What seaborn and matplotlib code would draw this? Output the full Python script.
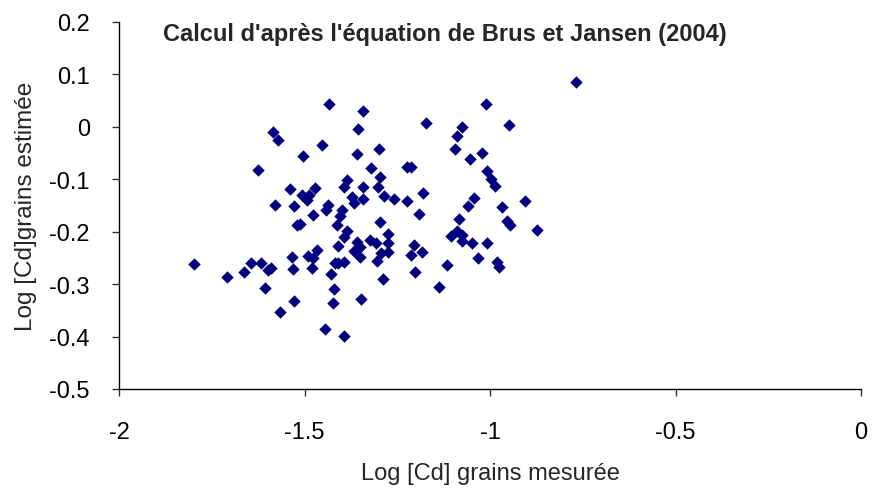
import matplotlib
matplotlib.use('Agg')
import matplotlib.pyplot as plt
import seaborn as sns
import pandas as pd

# valeurs (log Cd grains mesurée / estimée)
log_cd_mesuree = [
    -1.433, -1.586, -1.572, -1.454, -1.503, -1.625, -1.538, -1.508, -1.472, -1.487,
    -1.494, -1.580, -1.529, -1.437, -1.443, -1.476, -1.521, -1.512, -1.413, -1.411,
    -1.797, -1.708, -1.663, -1.644, -1.617, -1.598, -1.591, -1.533, -1.532, -1.490,
    -1.467, -1.476, -1.481, -1.418, -1.411, -1.429, -1.607, -1.420, -1.528, -1.424,
    -1.566, -1.445,
    -1.343, -1.357, -1.358, -1.299, -1.172, -1.012, -1.075, -1.088, -0.950, -1.094,
    -1.054, -1.022, -1.322, -1.225, -1.214, -1.386, -1.394, -1.342, -1.296, -1.303,
    -1.009, -0.998, -0.988, -1.373, -1.368, -1.343, -1.285, -1.258, -1.223, -1.182,
    -1.191, -1.042, -1.060, -0.967, -0.906, -1.400, -1.404, -1.296, -1.084, -0.955,
    -0.946, -0.874, -1.386, -1.395, -1.323, -1.276, -1.307, -1.274, -1.359, -1.350,
    -1.368, -1.294, -1.274, -1.305, -1.350, -1.393, -1.205, -1.184, -1.213, -1.105,
    -1.090, -1.076, -1.075, -1.048, -1.009, -1.032, -0.982, -0.975, -1.115, -1.203,
    -1.289, -1.137, -1.349, -1.395, -0.768,
]
log_cd_estimee = [
    0.044, -0.009, -0.026, -0.034, -0.055, -0.082, -0.118, -0.130, -0.116, -0.130,
    -0.139, -0.149, -0.151, -0.149, -0.158, -0.168, -0.188, -0.185, -0.187, -0.228,
    -0.261, -0.287, -0.277, -0.260, -0.259, -0.274, -0.269, -0.249, -0.272, -0.247,
    -0.234, -0.251, -0.269, -0.259, -0.259, -0.281, -0.307, -0.310, -0.333, -0.336,
    -0.354, -0.385,
    0.030, -0.005, -0.051, -0.042, 0.008, 0.043, -0.001, -0.018, 0.003, -0.042,
    -0.061, -0.049, -0.079, -0.077, -0.077, -0.101, -0.115, -0.115, -0.095, -0.115,
    -0.084, -0.099, -0.113, -0.133, -0.145, -0.138, -0.132, -0.137, -0.142, -0.126,
    -0.166, -0.135, -0.151, -0.153, -0.142, -0.159, -0.171, -0.182, -0.176, -0.180,
    -0.187, -0.196, -0.199, -0.210, -0.215, -0.204, -0.222, -0.221, -0.220, -0.229,
    -0.236, -0.241, -0.239, -0.255, -0.248, -0.257, -0.225, -0.238, -0.245, -0.209,
    -0.199, -0.207, -0.218, -0.221, -0.221, -0.250, -0.258, -0.267, -0.264, -0.277,
    -0.291, -0.305, -0.329, -0.399, 0.086,
]

x_ticks = [-2, -1.5, -1, -0.5, 0]
x_labels = ['-2', '-1.5', '-1', '-0.5', '0']
y_ticks = [0.2, 0.1, 0, -0.1, -0.2, -0.3, -0.4, -0.5]
y_labels = ['0.2', '0.1', '0', '-0.1', '-0.2', '-0.3', '-0.4', '-0.5']

df = pd.DataFrame({'mesuree': log_cd_mesuree, 'estimee': log_cd_estimee})

sns.set_style('ticks')
plt.rcParams['font.family'] = ['Liberation Sans', 'DejaVu Sans']
plt.rcParams['axes.unicode_minus'] = False

fig = plt.figure(figsize=(8.72, 4.89), dpi=100)
ax = fig.add_axes([0.1365, 0.2025, 0.851, 0.7505])

sns.scatterplot(data=df, x='mesuree', y='estimee', ax=ax, marker='D',
                color='#000080', s=40, linewidth=0, legend=False)

ax.set_xlim(-2, 0)
ax.set_ylim(-0.5, 0.2)
ax.set_xticks(x_ticks)
ax.set_xticklabels(x_labels)
ax.set_yticks(y_ticks)
ax.set_yticklabels(y_labels)
ax.tick_params(axis='both', direction='out', length=5, width=1, color='#333333',
               labelsize=17, labelcolor='black')
ax.tick_params(axis='x', pad=18)
ax.tick_params(axis='y', pad=16)

for side in ['top', 'right']:
    ax.spines[side].set_visible(False)
for side in ['left', 'bottom']:
    ax.spines[side].set_color('black')
    ax.spines[side].set_linewidth(1)

ax.set_xlabel('Log [Cd] grains mesurée', fontsize=17)
ax.set_ylabel('Log [Cd]grains estimée', fontsize=17.5)
ax.xaxis.set_label_coords(0.5, -0.2)
ax.yaxis.set_label_coords(-0.11, 0.5)

fig.text(445 / 872, 1 - 34 / 489, "Calcul d'après l'équation de Brus et Jansen (2004)",
         ha='center', va='center', fontsize=17, fontweight='bold')

fig.savefig('out.png', dpi=100)
